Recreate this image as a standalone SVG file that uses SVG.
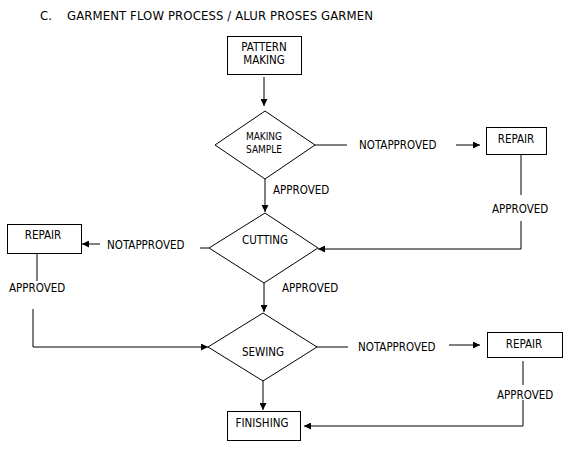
<svg xmlns="http://www.w3.org/2000/svg" width="574" height="452" viewBox="0 0 574 452">
<style>
text{font-family:"DejaVu Sans Condensed","DejaVu Sans",sans-serif;font-size:11.5px;fill:#000}
.c{text-anchor:middle}
.s{font-size:10px}
.t{font-size:13px}
.n{fill:#fff;stroke:#000;stroke-width:1}
.e line,.e polyline{stroke:#000;stroke-width:1;fill:none}
</style>
<defs>
<marker id="a" viewBox="0 0 10 10" refX="10" refY="5" markerWidth="7" markerHeight="7" markerUnits="userSpaceOnUse" orient="auto"><path d="M0,0L10,5L0,10z" fill="#000"/></marker>
</defs>
<rect width="574" height="452" fill="#fff"/>
<text class="t" x="40" y="20">C.</text>
<text class="t" x="67" y="20" textLength="306" lengthAdjust="spacing">GARMENT FLOW PROCESS / ALUR PROSES GARMEN</text>
<g class="e" id="connectors">
<line x1="264" y1="77" x2="264" y2="106" marker-end="url(#a)"/>
<line x1="315" y1="145" x2="347" y2="145"/>
<line x1="456" y1="145" x2="480" y2="145" marker-end="url(#a)"/>
<line x1="521" y1="154" x2="521" y2="195"/>
<polyline points="521,221 521,249 318,249" marker-end="url(#a)"/>
<line x1="265" y1="179" x2="265" y2="212" marker-end="url(#a)"/>
<line x1="209" y1="248" x2="200" y2="248"/>
<line x1="100" y1="244" x2="82" y2="244" marker-end="url(#a)"/>
<line x1="37" y1="253" x2="37" y2="281"/>
<polyline points="33,309 33,347 208,347" marker-end="url(#a)"/>
<line x1="264" y1="283" x2="264" y2="312" marker-end="url(#a)"/>
<line x1="317" y1="347" x2="348" y2="347"/>
<line x1="449" y1="345" x2="480" y2="345" marker-end="url(#a)"/>
<line x1="523" y1="361" x2="523" y2="385"/>
<polyline points="523,400 523,426 304,426" marker-end="url(#a)"/>
<line x1="263" y1="381" x2="263" y2="410" marker-end="url(#a)"/>
</g>
<g id="pattern"><rect class="n" x="227.5" y="36.5" width="74" height="38"/><text class="c" x="264" y="51">PATTERN</text><text class="c" x="264" y="64">MAKING</text></g>
<g id="sample"><polygon class="n" points="215,145 265,111 315,145 265,179"/><text class="c s" x="264" y="140">MAKING</text><text class="c s" x="264" y="153">SAMPLE</text></g>
<g id="repair1"><rect class="n" x="486.5" y="127.5" width="60" height="27"/><text class="c" x="516" y="143">REPAIR</text></g>
<g id="cutting"><polygon class="n" points="209,248 265,213 318,248 264,283"/><text class="c" x="265" y="244">CUTTING</text></g>
<g id="repair2"><rect class="n" x="7.5" y="224.5" width="74" height="29"/><text class="c" x="43" y="239">REPAIR</text></g>
<g id="sewing"><polygon class="n" points="208,347 263,313 317,347 263,381"/><text class="c" x="263" y="356">SEWING</text></g>
<g id="repair3"><rect class="n" x="487.5" y="332.5" width="75" height="25"/><text class="c" x="524" y="348">REPAIR</text></g>
<g id="finishing"><rect class="n" x="227.5" y="411.5" width="73" height="29"/><text class="c" x="262" y="427">FINISHING</text></g>
<g id="labels">
<text x="359" y="149">NOTAPPROVED</text>
<text x="273" y="194">APPROVED</text>
<text x="492" y="213">APPROVED</text>
<text x="107" y="249">NOTAPPROVED</text>
<text x="9" y="292">APPROVED</text>
<text x="282" y="292">APPROVED</text>
<text x="358" y="351">NOTAPPROVED</text>
<text x="497" y="399">APPROVED</text>
</g>
</svg>
